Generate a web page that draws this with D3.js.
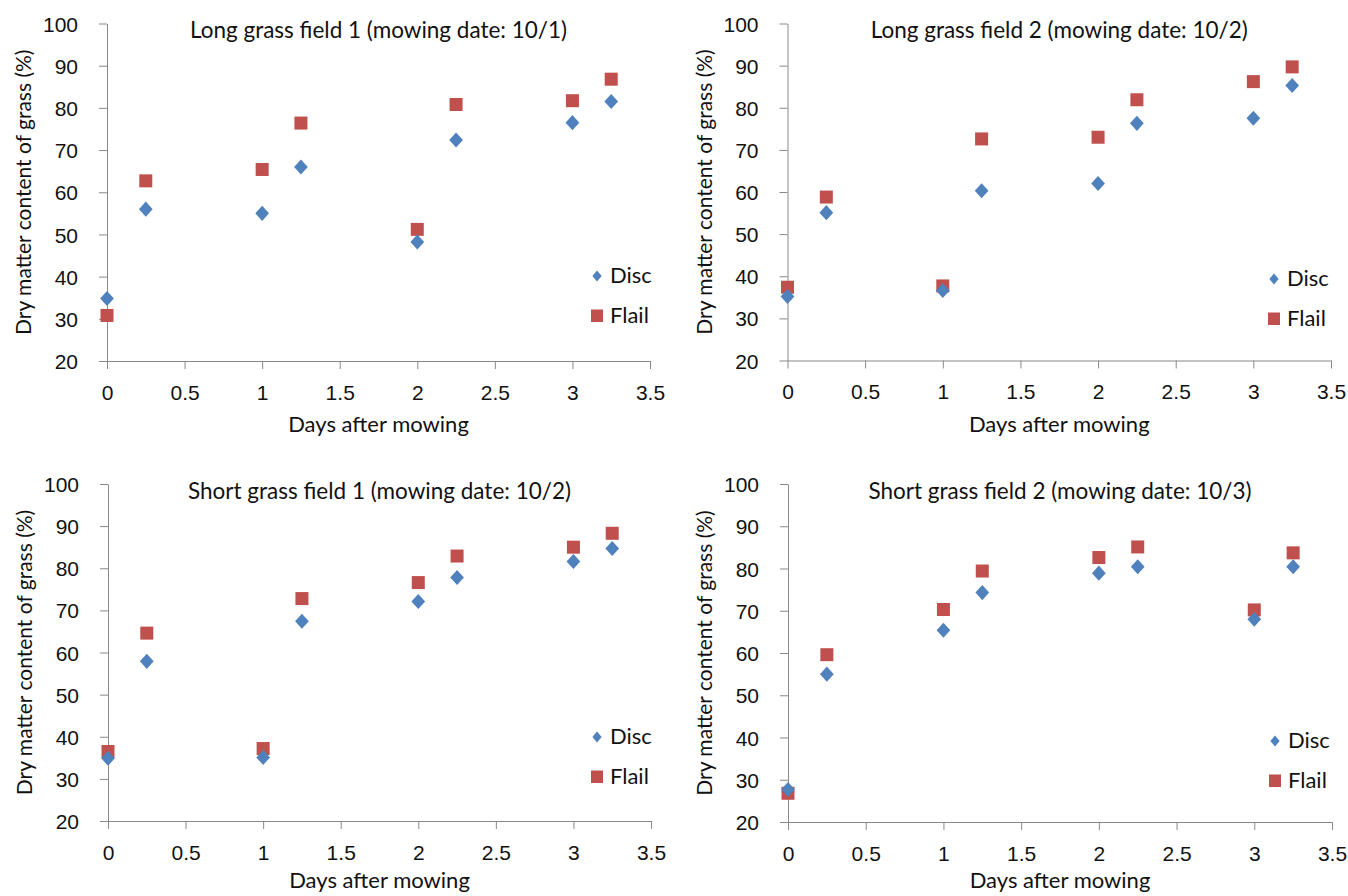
<!DOCTYPE html>
<html>
<head>
<meta charset="utf-8">
<script src="https://cdn.jsdelivr.net/npm/d3@7"></script>
<style>
  body { margin: 0; background: #fff; }
  svg { display: block; font-family: Lato, 'Open Sans', sans-serif; }
  .axis path, .axis line { stroke: #898989; }
  .axis text { fill: #111; font-size: 21px; }
</style>
</head>
<body>
<svg id="chart" width="1348" height="896"></svg>
<script>
const days = [0, 0.25, 1, 1.25, 2, 2.25, 3, 3.25];

const titles = [
  'Long grass field 1 (mowing date: 10/1)',
  'Long grass field 2 (mowing date: 10/2)',
  'Short grass field 1 (mowing date: 10/2)',
  'Short grass field 2 (mowing date: 10/3)'
];

const discLong1 = [34.8, 56.0, 55.0, 66.0, 48.2, 72.4, 76.5, 81.5];
const flailLong1 = [30.8, 62.7, 65.4, 76.4, 51.2, 80.8, 81.7, 86.8];
const discLong2 = [35.2, 55.1, 36.6, 60.3, 62.0, 76.3, 77.5, 85.3];
const flailLong2 = [37.4, 58.8, 37.7, 72.6, 73.0, 81.9, 86.2, 89.7];
const discShort1 = [34.9, 57.9, 35.1, 67.4, 72.1, 77.8, 81.6, 84.7];
const flailShort1 = [36.5, 64.6, 37.2, 72.8, 76.6, 82.9, 85.0, 88.3];
const discShort2 = [27.7, 55.0, 65.4, 74.3, 78.9, 80.4, 68.0, 80.4];
const flailShort2 = [26.8, 59.6, 70.3, 79.4, 82.6, 85.1, 70.2, 83.7];

const xTicks = [0, 0.5, 1, 1.5, 2, 2.5, 3, 3.5];
const yTicks = [20, 30, 40, 50, 60, 70, 80, 90, 100];
const seriesNames = ['Disc', 'Flail'];

const discColor = '#4f81bd';
const flailColor = '#c0504d';

// plot boxes: left, right, top (y=100), bottom (y=20); xTitle = offset of axis title baseline
const panels = [
  { box: [107, 650, 23.5, 361], disc: discLong1, flail: flailLong1, title: titles[0], legend: [597, 276], xTitle: 71 },
  { box: [787.5, 1331, 23.5, 360.5], disc: discLong2, flail: flailLong2, title: titles[1], legend: [1274, 279], xTitle: 71 },
  { box: [108, 651, 484, 821], disc: discShort1, flail: flailShort1, title: titles[2], legend: [597, 737], xTitle: 67 },
  { box: [788, 1332, 484, 822], disc: discShort2, flail: flailShort2, title: titles[3], legend: [1275, 741], xTitle: 66 }
];

const svg = d3.select('#chart');
const diamond = d3.symbol().type(d3.symbolDiamond2);

panels.forEach(p => {
  const [x0, x1, y0, y1] = p.box;
  const x = d3.scaleLinear().domain([0, 3.5]).range([x0, x1]);
  const y = d3.scaleLinear().domain([20, 100]).range([y1, y0]);
  const g = svg.append('g');

  g.append('g')
    .attr('class', 'axis')
    .attr('transform', `translate(${x0},0)`)
    .call(d3.axisLeft(y).tickValues(yTicks).tickSize(8).tickSizeOuter(0).tickPadding(21))
    .selectAll('text').attr('dy', '0.36em');

  g.append('g')
    .attr('class', 'axis')
    .attr('transform', `translate(0,${y1})`)
    .call(d3.axisBottom(x).tickValues(xTicks).tickFormat(d3.format('')).tickSize(8).tickSizeOuter(0).tickPadding(16));

  g.append('text')
    .attr('x', (x0 + x1) / 2)
    .attr('y', y0 + 14.5)
    .attr('text-anchor', 'middle')
    .attr('font-size', 22.5)
    .attr('fill', '#111')
    .text(p.title);

  g.append('text')
    .attr('x', (x0 + x1) / 2)
    .attr('y', y1 + p.xTitle)
    .attr('text-anchor', 'middle')
    .attr('font-size', 22)
    .attr('fill', '#111')
    .text('Days after mowing');

  g.append('text')
    .attr('transform', `translate(${x0 - 76},${(y0 + y1) / 2}) rotate(-90)`)
    .attr('text-anchor', 'middle')
    .attr('font-size', 21)
    .attr('fill', '#111')
    .text('Dry matter content of grass (%)');

  // flail squares drawn first, disc diamonds on top
  g.selectAll('rect.flail')
    .data(days.map((d, i) => [d, p.flail[i]]))
    .join('rect')
    .attr('class', 'flail')
    .attr('x', d => x(d[0]) - 6.5)
    .attr('y', d => y(d[1]) - 6.5)
    .attr('width', 13)
    .attr('height', 13)
    .attr('fill', flailColor);

  g.selectAll('path.disc')
    .data(days.map((d, i) => [d, p.disc[i]]))
    .join('path')
    .attr('class', 'disc')
    .attr('transform', d => `translate(${x(d[0])},${y(d[1])}) scale(1,1.1)`)
    .attr('d', diamond.size(120)())
    .attr('fill', discColor);

  // legend
  const [lx, ly] = p.legend;
  const leg = g.append('g').attr('transform', `translate(${lx},${ly})`);
  leg.append('path')
    .attr('transform', 'scale(1,1.2)')
    .attr('d', d3.symbol().type(d3.symbolDiamond2).size(55)())
    .attr('fill', discColor);
  leg.append('rect')
    .attr('x', -6).attr('y', 33.5).attr('width', 12).attr('height', 12.5)
    .attr('fill', flailColor);
  leg.selectAll('text')
    .data(seriesNames)
    .join('text')
    .attr('x', 13)
    .attr('y', (d, i) => i * 40 + 7)
    .attr('font-size', 22)
    .attr('fill', '#111')
    .text(d => d);
});
</script>
</body>
</html>
